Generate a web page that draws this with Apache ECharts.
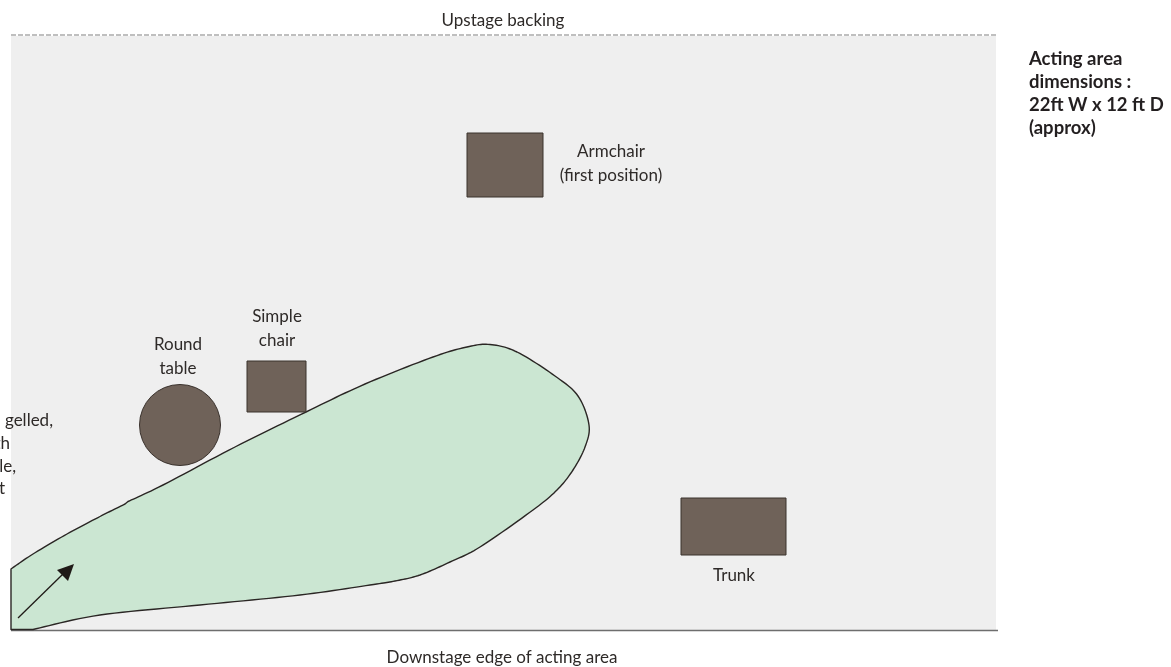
<!DOCTYPE html>
<html><head><meta charset="utf-8">
<style>html,body{margin:0;padding:0;background:#fff}#c{width:1171px;height:667px}</style>
<script src="https://cdn.jsdelivr.net/npm/echarts@6/dist/echarts.min.js"></script>
</head><body><div id="c"></div>
<script>
// stage plan, read in picture units
const stageArea = [[11, 36, 996, 630]];
const upstageLine = [[11, 35], [998, 35]];
const downstageLine = [[11, 630.5], [998, 630.5]];
const furnitureNames = ['Armchair', 'Simple chair', 'Trunk'];
const furnitureBoxes = [[467, 133, 543, 197], [247, 361, 306, 412], [681, 498, 786, 555]];
const tableCircle = [[180, 425, 40.5]];
const beamNearEdge = [[11, 569], [33, 554], [67, 534], [100, 516.5], [125, 504]];
const beamFarEdge = [[128, 501.5], [163, 485], [235, 447], [306, 412], [365, 384], [433, 357], [467, 347], [490, 344.5], [517, 352], [555, 376], [578, 396], [589, 425], [585, 447], [573, 470], [557, 490], [533, 510], [480, 547], [450, 562], [420, 575], [395, 581], [370, 585], [300, 595], [200, 605], [100, 615], [33, 629.5]];
const beamCorners = [[11, 629.5]];
const arrowShaft = [[18, 618], [63, 574]];
const arrowHead = [[74, 564], [57, 570], [68, 581]];
const labelTexts = ['Upstage backing', 'Downstage edge of acting area', 'Armchair', '(first position)', 'Simple', 'chair', 'Round', 'table', 'Trunk', 'gelled,', 'th', 'le,', 't'];
const labelPlaces = [[503, 21, 'center'], [502, 658, 'center'], [611, 152, 'center'], [611, 176, 'center'], [277, 317, 'center'], [277, 341, 'center'], [178, 345, 'center'], [178, 369, 'center'], [734, 576, 'center'], [53, 421, 'right'], [10, 444, 'right'], [16, 467, 'right'], [5, 489, 'right']];
const noteLines = ['Acting area', 'dimensions :', '22ft W x 12 ft D', '(approx)'];
const notePlaces = [[1029, 59], [1029, 82], [1029, 105], [1029, 128]];

const FONT = 'Lato, "Open Sans", sans-serif';
const BROWN = '#6f6259', EDGE = '#2a2624';

function catmull(pts) {
  const out = [];
  for (let i = 0; i < pts.length - 1; i++) {
    const p0 = pts[Math.max(0, i - 1)], p1 = pts[i], p2 = pts[i + 1], p3 = pts[Math.min(pts.length - 1, i + 2)];
    for (let k = 0; k < 12; k++) {
      const t = k / 12, t2 = t * t, t3 = t2 * t;
      out.push([0, 1].map(j => 0.5 * (2 * p1[j] + (p2[j] - p0[j]) * t + (2 * p0[j] - 5 * p1[j] + 4 * p2[j] - p3[j]) * t2 + (3 * p1[j] - p0[j] - 3 * p2[j] + p3[j]) * t3)));
    }
  }
  out.push(pts[pts.length - 1]);
  return out;
}
const boxRender = style => (params, api) => {
  const a = api.coord([api.value(0), api.value(1)]), b = api.coord([api.value(2), api.value(3)]);
  return { type: 'rect', shape: { x: a[0], y: a[1], width: b[0] - a[0], height: b[1] - a[1] }, style };
};
const polyline = (data, lineStyle, z) => ({ type: 'line', data, symbol: 'none', silent: true, z, lineStyle });

const option = {
  animation: false,
  grid: { left: 0, right: 0, top: 0, bottom: 0 },
  xAxis: { type: 'value', min: 0, max: 1171, show: false },
  yAxis: { type: 'value', min: 0, max: 667, inverse: true, show: false },
  series: [
    { type: 'custom', z: 1, silent: true, clip: false, data: stageArea, encode: { x: [0, 2], y: [1, 3] },
      renderItem: boxRender({ fill: '#efefef' }) },
    polyline(upstageLine, { color: '#808080', width: 1.1, type: [5, 2] }, 2),
    polyline(downstageLine, { color: '#6e6e6e', width: 1.3 }, 2),
    { type: 'custom', z: 3, silent: true, clip: false, data: [0], encode: { x: [], y: [] },
      renderItem: (params, api) => {
        const toPx = run => catmull(run.map(p => api.coord(p)));
        const points = toPx(beamNearEdge).concat(toPx(beamFarEdge), beamCorners.map(p => api.coord(p)));
        return { type: 'polygon', shape: { points }, style: { fill: '#cbe6d2', stroke: EDGE, lineWidth: 1.4, lineJoin: 'round' } };
      } },
    { type: 'custom', z: 4, silent: true, clip: false, data: furnitureBoxes, encode: { x: [0, 2], y: [1, 3] },
      renderItem: boxRender({ fill: BROWN, stroke: '#3a322d', lineWidth: 1 }) },
    { type: 'custom', z: 4, silent: true, clip: false, data: tableCircle, encode: { x: 0, y: 1 },
      renderItem: (params, api) => {
        const c = api.coord([api.value(0), api.value(1)]);
        const e = api.coord([api.value(0) + api.value(2), api.value(1)]);
        return { type: 'circle', shape: { cx: c[0], cy: c[1], r: e[0] - c[0] }, style: { fill: BROWN, stroke: '#3a322d', lineWidth: 1 } };
      } },
    polyline(arrowShaft, { color: '#1f1a17', width: 1.3 }, 5),
    { type: 'custom', z: 5, silent: true, clip: false, data: [0], encode: { x: [], y: [] },
      renderItem: (params, api) => ({ type: 'polygon', shape: { points: arrowHead.map(p => api.coord(p)) }, style: { fill: '#1f1a17' } }) },
    { type: 'custom', z: 6, silent: true, clip: false, data: labelTexts.map((t, i) => [labelPlaces[i][0], labelPlaces[i][1], i]), encode: { x: 0, y: 1 },
      renderItem: (params, api) => {
        const i = api.value(2), c = api.coord([api.value(0), api.value(1)]);
        return { type: 'text', x: c[0], y: c[1], style: { text: labelTexts[i], fill: '#2e2a28', font: '17px ' + FONT, align: labelPlaces[i][2], verticalAlign: 'middle' } };
      } },
    { type: 'custom', z: 6, silent: true, clip: false, data: noteLines.map((t, i) => [notePlaces[i][0], notePlaces[i][1], i]), encode: { x: 0, y: 1 },
      renderItem: (params, api) => {
        const i = api.value(2), c = api.coord([api.value(0), api.value(1)]);
        return { type: 'text', x: c[0], y: c[1], style: { text: noteLines[i], fill: '#231f20', font: 'bold 18.5px ' + FONT, align: 'left', verticalAlign: 'middle' } };
      } }
  ]
};
echarts.init(document.getElementById('c'), null, { renderer: 'canvas' }).setOption(option);
</script></body></html>
